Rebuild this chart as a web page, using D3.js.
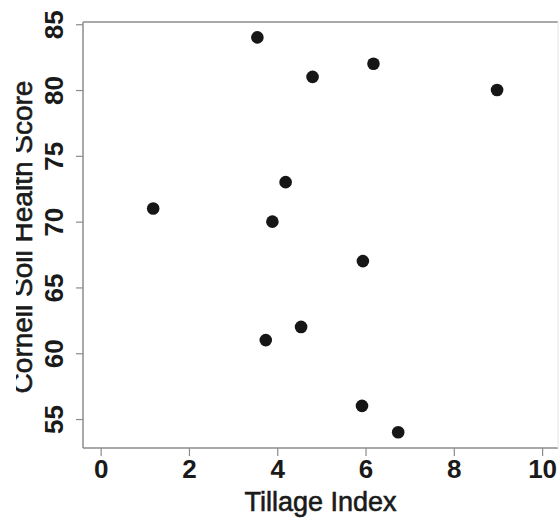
<!DOCTYPE html>
<html>
<head>
<meta charset="utf-8">
<script src="https://cdn.jsdelivr.net/npm/d3@7"></script>
<style>
  html, body { margin: 0; padding: 0; background: #fff; }
  svg { display: block; }
  text { font-family: "Liberation Sans", Arial, sans-serif; fill: #1a1a1a; }
</style>
</head>
<body>
<svg id="chart" width="559" height="519"></svg>
<script>
// Data
const tillageIndex = [3.55, 4.8, 6.18, 8.98, 1.19, 4.19, 3.89, 5.94, 4.54, 3.74, 5.92, 6.74];
const soilScore    = [84,   81,  82,   80,   71,   73,   70,   67,   62,   61,   56,   54];
const xTicks = [0, 2, 4, 6, 8, 10];
const yTicks = [55, 60, 65, 70, 75, 80, 85];
const xTitle = "Tillage Index";
const yTitle = "Cornell Soil Health Score";

const svg = d3.select("#chart");
const L = 83, R = 558, T = 22, B = 448;

const x = d3.scaleLinear().domain([-0.4, 10.36]).range([L, R]);
const y = d3.scaleLinear().domain([52.8, 85.17]).range([B, T]);

const axisColor = "#8c8c8c";

// Box
svg.append("line").attr("x1", L).attr("x2", R).attr("y1", T).attr("y2", T)
  .attr("stroke", axisColor).attr("stroke-width", 1.5);
svg.append("line").attr("x1", L).attr("x2", R).attr("y1", B).attr("y2", B)
  .attr("stroke", axisColor).attr("stroke-width", 1.5);
svg.append("line").attr("x1", L).attr("x2", L).attr("y1", T).attr("y2", B)
  .attr("stroke", axisColor).attr("stroke-width", 1.5);
svg.append("line").attr("x1", R).attr("x2", R).attr("y1", T).attr("y2", B)
  .attr("stroke", "#e4e4e4").attr("stroke-width", 1);

// X axis
const gx = svg.append("g").attr("transform", `translate(0,${B})`)
  .call(d3.axisBottom(x).tickValues(xTicks).tickSize(8).tickSizeOuter(0).tickPadding(4));
gx.select(".domain").remove();
gx.selectAll(".tick line").attr("stroke", axisColor).attr("stroke-width", 1.2);
gx.selectAll(".tick text")
  .attr("font-size", 26).attr("font-family", "Liberation Sans, Arial, sans-serif")
  .attr("font-weight", "bold").attr("fill", "#1a1a1a");

// Y axis
const gy = svg.append("g").attr("transform", `translate(${L},0)`)
  .call(d3.axisLeft(y).tickValues(yTicks).tickSize(7).tickSizeOuter(0));
gy.select(".domain").remove();
gy.selectAll(".tick line").attr("stroke", axisColor).attr("stroke-width", 1.2);
gy.selectAll(".tick text")
  .attr("font-size", 26).attr("font-family", "Liberation Sans, Arial, sans-serif")
  .attr("font-weight", "bold").attr("fill", "#1a1a1a")
  .attr("x", null).attr("dy", null)
  .attr("text-anchor", "middle")
  .attr("transform", "translate(-20,0) rotate(-90)");

// Points
svg.append("g").selectAll("circle")
  .data(tillageIndex.map((v, i) => [v, soilScore[i]]))
  .join("circle")
  .attr("cx", d => x(d[0]))
  .attr("cy", d => y(d[1]))
  .attr("r", 6.3)
  .attr("fill", "#161616");

// X title
svg.append("text")
  .attr("x", (L + R) / 2).attr("y", 511)
  .attr("text-anchor", "middle")
  .attr("font-size", 27)
  .attr("stroke", "#1a1a1a").attr("stroke-width", 0.6)
  .text(xTitle);

// Y title (left part clipped as in reference)
svg.append("clipPath").attr("id", "yclip")
  .append("rect").attr("x", 16).attr("y", 0).attr("width", 60).attr("height", 519);
svg.append("g").attr("clip-path", "url(#yclip)")
  .append("text")
  .attr("transform", `translate(32,${(T + B) / 2 + 2}) rotate(-90)`)
  .attr("text-anchor", "middle")
  .attr("font-size", 28)
  .attr("stroke", "#1a1a1a").attr("stroke-width", 0.6)
  .text(yTitle);
</script>
</body>
</html>
